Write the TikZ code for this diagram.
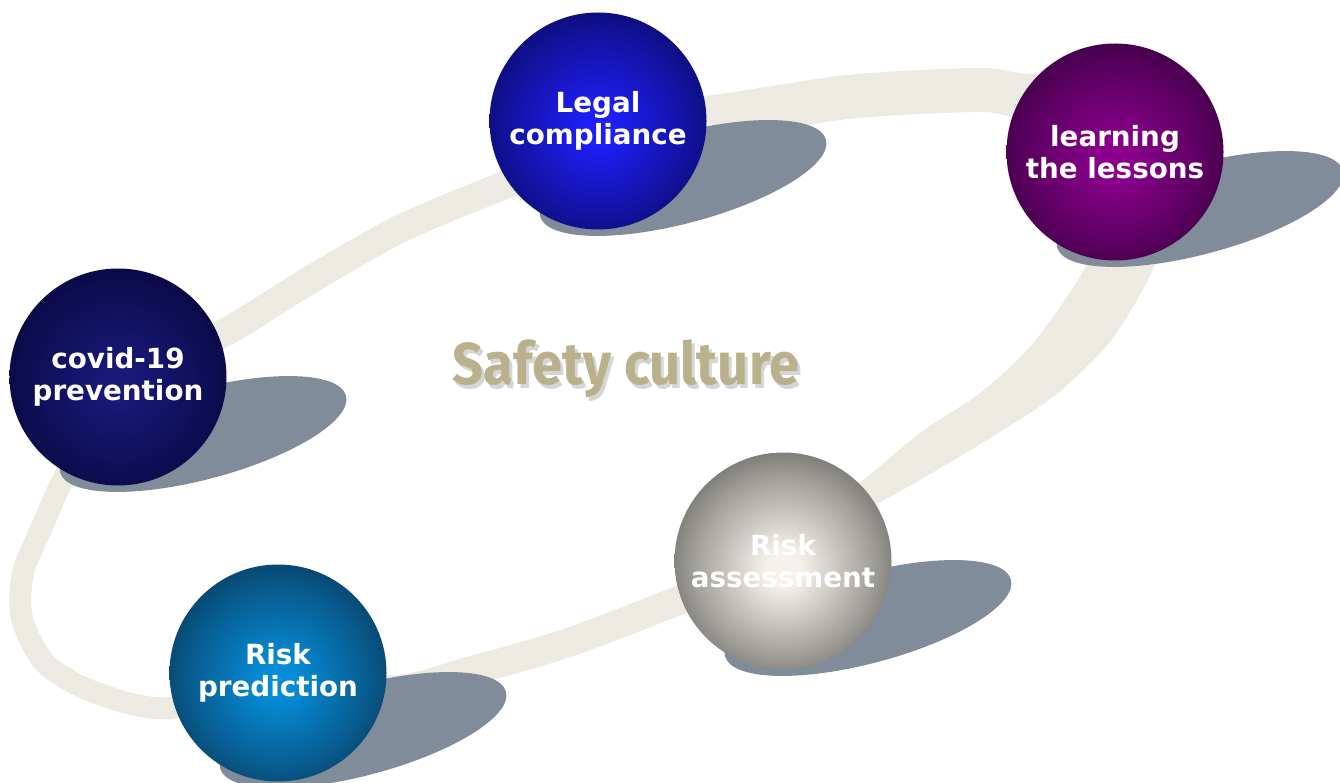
\documentclass[tikz,border=0pt]{standalone}
\usepackage{fontspec}
\newfontfamily\orbfont{DejaVu Sans}
\newfontfamily\titlefont{Fira Sans}
\usetikzlibrary{calc}

\definecolor{ringcol}{RGB}{237,235,225}
\definecolor{shadowcol}{RGB}{128,140,153}
\definecolor{titlecol}{RGB}{185,177,140}
\definecolor{legalin}{RGB}{30,30,245}
\definecolor{legalout}{RGB}{6,6,72}
\definecolor{lessonsin}{RGB}{138,0,140}
\definecolor{lessonsout}{RGB}{40,0,48}
\definecolor{covidin}{RGB}{24,24,120}
\definecolor{covidout}{RGB}{3,3,48}
\definecolor{assessin}{RGB}{244,242,234}
\definecolor{assessout}{RGB}{72,71,66}
\definecolor{predictin}{RGB}{6,140,215}
\definecolor{predictout}{RGB}{10,40,66}
\colorlet{orbin}{white}
\colorlet{orbmid}{gray}
\colorlet{orbout}{black}
\pgfdeclareradialshading[orbin,orbmid,orbout]{orb}{\pgfpoint{0bp}{-2bp}}{color(0bp)=(orbin); color(4bp)=(orbin); color(21bp)=(orbmid); color(35bp)=(orbout); color(50bp)=(orbout)}
\pgfdeclarelayer{ringlayer}
\pgfdeclarelayer{shadowlayer}
\pgfsetlayers{ringlayer,shadowlayer,main}

\begin{document}
\begin{tikzpicture}[
	orb/.style 2 args={circle, minimum size=2.17cm, inner sep=0pt, shade, shading=orb,
		/utils/exec={\colorlet{orbin}{#1}\colorlet{orbmid}{#1!50!#2}\colorlet{orbout}{#2}},
		text=white, align=center, font=\orbfont\bfseries\fontsize{7.9}{9.2}\selectfont},
	ring/.style={draw=ringcol, line width=#1},
	title/.style={font=\titlefont\bfseries\fontsize{16.8}{18}\selectfont, anchor=base}]
		\useasboundingbox (0,0) rectangle (13.4,7.82);
		\node[orb={legalin}{legalout}] (legal) at (5.98,6.61) {Legal\\compliance};
		\node[orb={lessonsin}{lessonsout}] (lessons) at (11.15,6.30) {learning\\the lessons};
		\node[orb={covidin}{covidout}] (covid) at (1.18,4.05) {covid-19\\prevention};
		\node[orb={assessin}{assessout}] (assess) at (7.83,2.21) {Risk\\assessment};
		\node[orb={predictin}{predictout}] (predict) at (2.78,1.09) {Risk\\prediction};
		\node[title, text=gray!55, opacity=.6] (title-sh) at (6.29,3.94) {\scalebox{0.92}[1]{Safety culture}};
		\node[title, text=titlecol] (title) at (6.26,3.97) {\scalebox{0.92}[1]{Safety culture}};
		% the ring behind the spheres
		\begin{pgfonlayer}{ringlayer}
			\draw[ring=0.28cm] plot[smooth] coordinates {(covid.center) (2.20,4.47) (3.05,4.99) (4.00,5.53) (5.05,5.97) (5.60,6.17) (legal.center)};
			\draw[ring=0.44cm] plot[smooth] coordinates {(legal.center) (7.05,6.64) (8.48,6.85) (9.75,6.92) (10.17,6.87) (10.75,6.78) (lessons.center)};
			\fill[ringcol] plot[smooth] coordinates {(11.75,5.82) (11.57,5.22) (11.33,4.75) (11.03,4.32) (10.53,3.85) (9.87,3.42) (9.20,3.02) (8.70,2.74)}
				-- plot[smooth] coordinates {(8.20,2.72) (8.63,3.02) (9.20,3.49) (9.80,3.89) (10.27,4.32) (10.60,4.75) (10.87,5.19) (10.95,5.62)} -- cycle;
			\draw[ring=0.29cm] plot[smooth] coordinates {(assess.center) (6.80,1.82) (5.70,1.40) (4.70,1.11) (3.90,0.92) (predict.center)};
			\draw[ring=0.22cm] plot[smooth] coordinates {(predict.center) (1.70,0.74) (0.94,0.90) (0.45,1.19) (0.22,1.64) (0.23,2.09) (0.42,2.55) (0.63,3.02) (covid.center)};
		\end{pgfonlayer}
		\begin{pgfonlayer}{shadowlayer}
			\foreach \n in {legal,lessons,covid,assess,predict}{
				\coordinate (\n-sh) at ($(\n)+(0.85,-0.57)$);
				\fill[shadowcol, rotate around={15:(\n-sh)}] (\n-sh) ellipse (1.48 and 0.45);
			}
		\end{pgfonlayer}
	\end{tikzpicture}
\end{document}
